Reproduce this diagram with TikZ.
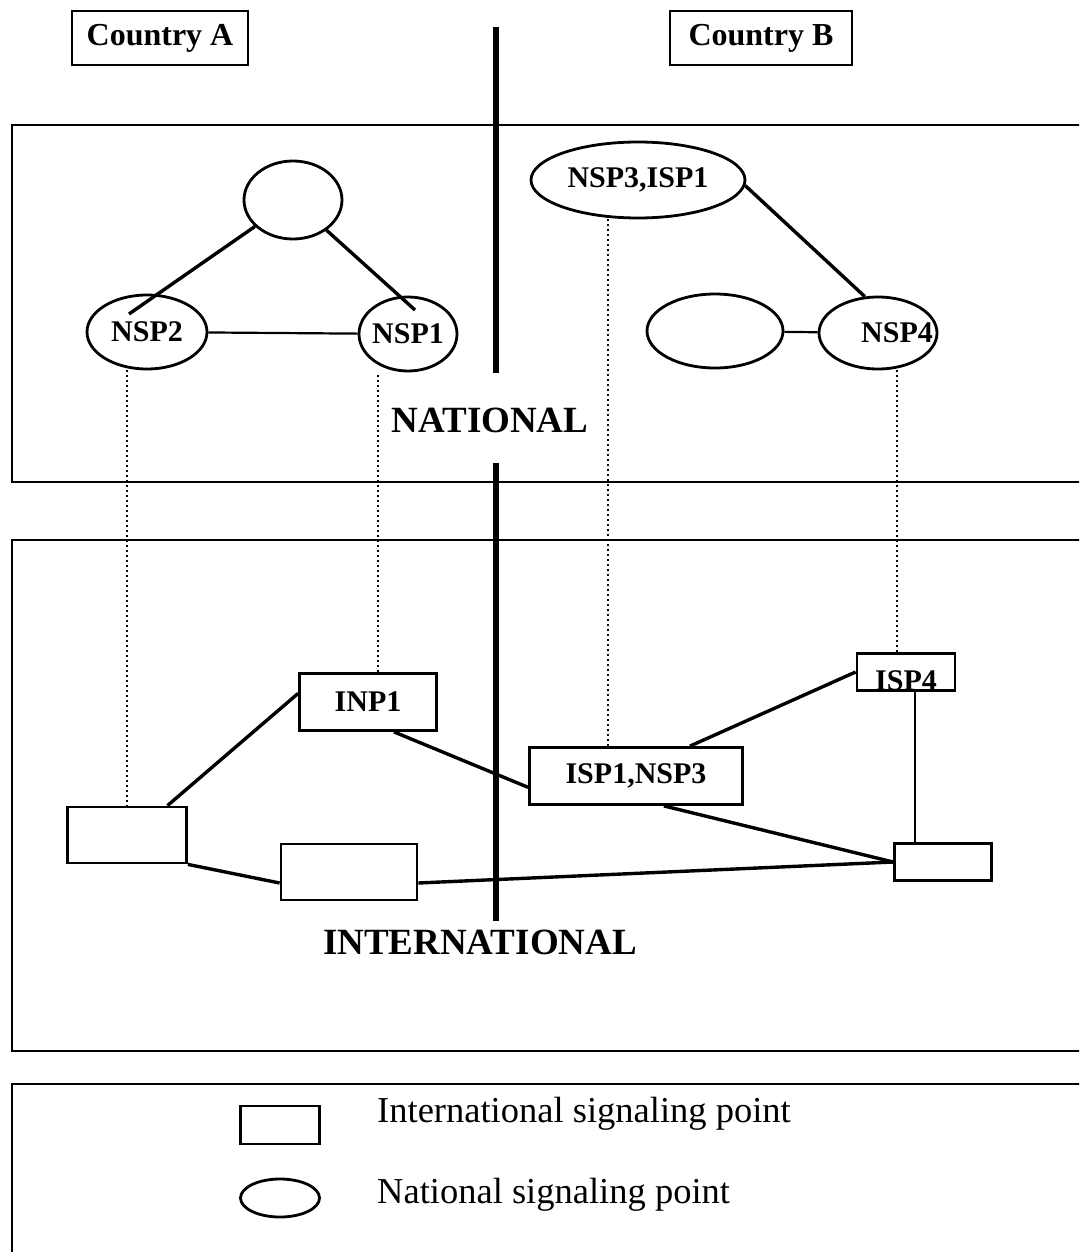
\documentclass[tikz,border=0pt]{standalone}
\usepackage{fontspec}
\setmainfont{Liberation Serif}
\usetikzlibrary{calc,shapes.geometric,backgrounds}
\newcommand{\spfont}{\fontsize{30}{34}\selectfont\bfseries}
\tikzset{
  node-isp/.style={draw,line width=2.8pt,fill=white,rectangle,inner sep=0pt,font=\spfont},
  node-nsp/.style={draw,line width=2.8pt,fill=white,ellipse,inner sep=0pt,font=\spfont},
  title-box/.style={draw,line width=2.6pt,minimum height=54pt,
    font=\fontsize{32}{36}\selectfont\bfseries},
  zone-label/.style={anchor=base,inner sep=0pt,font=\fontsize{37}{40}\selectfont\bfseries},
  legend-text/.style={anchor=base west,inner sep=0pt,font=\fontsize{36.5}{40}\selectfont},
  frame/.style={line width=2.8pt},
  divider/.style={line width=5.5pt},
  link/.style={line width=3.4pt},
  link-thin/.style={line width=2.2pt},
  link-dot/.style={line width=2pt,dash pattern=on 2pt off 3pt},
}

\begin{document}
\begin{tikzpicture}[x=1pt,y=-1pt]
  \useasboundingbox (0,0) rectangle (1079,1252);
  \clip (0,0) rectangle (1079,1252);
  % zones
  \draw[frame] (12,125) rectangle (1095,482);
  \draw[frame] (12,540) rectangle (1095,1051);
  \draw[frame] (12,1084) rectangle (1095,1270);
  \draw[divider] (496,27) -- (496,373);
  \draw[divider] (496,463) -- (496,921);
  \node[title-box,minimum width=176pt] (ctyA) at (160,38) {Country A};
  \node[title-box,minimum width=182pt] (ctyB) at (761,38) {Country B};
  % national level
  \node[node-nsp,minimum width=98pt,minimum height=78pt] (nat0) at (293,200) {};
  \node[node-nsp,minimum width=120pt,minimum height=74pt] (nsp2) at (147,332) {NSP2};
  \node[node-nsp,minimum width=98pt,minimum height=74pt] (nsp1) at (408,334) {\makebox[0pt]{NSP1}};
  \node[node-nsp,minimum width=214pt,minimum height=76pt] (nsp3) at (638,180) {NSP3,ISP1};
  \node[node-nsp,minimum width=136pt,minimum height=74pt] (natB) at (715,331) {};
  \node[node-nsp,minimum width=118pt,minimum height=72pt,
    label={[font=\spfont,xshift=19pt]center:NSP4}] (nsp4) at (878,333) {};
  \node[zone-label] (natl) at (490,432) {NATIONAL};
  \draw[link] (nat0) -- ($(nsp2)+(-18,-18)$);
  \draw[link] (nat0) -- ($(nsp1)+(7,-24)$);
  \draw[link-thin] (nsp2) -- (nsp1);
  \draw[link] (nsp3.-3) -- (nsp4.110);
  \draw[link-thin] (natB) -- (nsp4);
  % international level
  \node[node-isp,minimum width=137pt,minimum height=57pt] (inp1) at (368,702) {INP1};
  \node[node-isp,minimum width=213pt,minimum height=57pt] (isp1) at (636,776) {ISP1,NSP3};
  \node[node-isp,minimum width=98pt,minimum height=37pt,
    label={[font=\spfont,yshift=-9pt]center:ISP4}] (isp4) at (906,672) {};
  \node[node-isp,minimum width=119pt,minimum height=56pt] (int1) at (127,835) {};
  \node[node-isp,minimum width=136pt,minimum height=56pt] (int2) at (349,872) {};
  \node[node-isp,minimum width=97pt,minimum height=37pt] (int3) at (943,862) {};
  \node[zone-label] (intl) at (480,954) {INTERNATIONAL};
  \draw[link] (int1.36) -- (inp1.173);
  \draw[link] (inp1.-49) -- (isp1.186);
  \draw[link] (isp1.29) -- (isp4.west);
  \draw[link-thin] ($(isp4.south)+(9,0)$) -- ($(isp4.south |- int3.north)+(9,0)$);
  \draw[link] (isp1.-47) -- (int3.west);
  \draw[link] (int2.-9) -- (int3.west);
  \draw[link] (int1.south east) -- (int2.189);
  % national point -> international point
  \begin{scope}[on background layer]
    \draw[link-dot] (nsp2.south -| int1.north) -- (int1.north);
    \draw[link-dot] ($(inp1.north)+(10,0)$) -- ($(inp1.north |- nsp1.south)+(10,0)$);
    \draw[link-dot] ($(isp1.north)+(-28,0)$) -- ($(isp1.north |- nsp3.south)+(-28,0)$);
    \draw[link-dot] ($(isp4.north)+(-9,0)$) -- ($(isp4.north |- nsp4.south)+(-9,0)$);
  \end{scope}
  % legend
  \node[node-isp,minimum width=79pt,minimum height=38pt] (lgR) at (280,1125) {};
  \node[node-nsp,minimum width=79pt,minimum height=38pt] (lgE) at (280,1198) {};
  \node[legend-text] (lgRt) at (377,1122) {International signaling point};
  \node[legend-text] (lgEt) at (377,1203) {National signaling point};
\end{tikzpicture}
\end{document}
